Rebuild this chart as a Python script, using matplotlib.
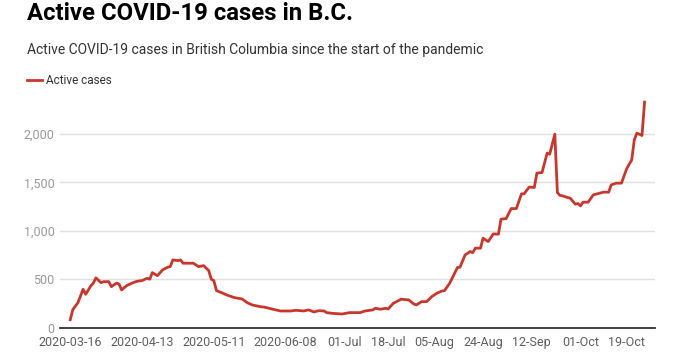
#!/usr/bin/env python3
# -*- coding: utf-8 -*-
import numpy as np
import pandas as pd
import matplotlib
matplotlib.use("Agg")
import matplotlib.pyplot as plt
import matplotlib.dates as mdates

# days since 2020-03-16 and active cases
days = [0, 1, 3, 5, 6, 8, 9, 10, 12, 13, 15, 16, 18, 19, 20, 22, 24, 26, 28, 30,
        31, 32, 34, 36, 38, 39, 40, 42, 43, 44, 46, 48, 49, 50, 52, 54, 55, 56, 57, 59,
        61, 64, 67, 69, 71, 74, 76, 79, 82, 86, 88, 91, 93, 95, 97, 99, 100, 102, 106, 109,
        113, 115, 118, 119, 121, 123, 124, 126, 129, 132, 134, 135, 137, 139, 141, 143, 145, 146, 148, 151,
        152, 154, 156, 157, 158, 160, 161, 163, 165, 167, 168, 170, 172, 174, 176, 177, 179, 181, 182, 184,
        186, 187, 189, 190, 191, 192, 194, 195, 197, 198, 199, 200, 202, 204, 206, 208, 210, 211, 213, 215,
        217, 219, 220, 221, 223, 224]
active = [85, 190, 261, 399, 347, 433, 461, 516, 467, 477, 477, 426, 461, 454, 392, 436, 461, 481, 488, 512,
          502, 570, 539, 598, 626, 632, 701, 694, 701, 667, 667, 667, 650, 632, 642, 591, 502, 488, 385, 364,
          340, 313, 299, 261, 237, 220, 213, 193, 175, 175, 182, 175, 186, 165, 178, 175, 158, 151, 144, 158,
          158, 175, 186, 203, 193, 203, 196, 254, 296, 289, 247, 237, 271, 271, 323, 358, 381, 385, 461, 622,
          626, 753, 787, 776, 822, 822, 925, 890, 969, 966, 1121, 1127, 1230, 1230, 1382, 1382, 1451, 1447, 1595, 1601,
          1801, 1790, 1997, 1395, 1366, 1361, 1344, 1337, 1275, 1282, 1258, 1296, 1296, 1371, 1385, 1399, 1399, 1474, 1492, 1492,
          1639, 1732, 1938, 2007, 1983, 2327]

tick_dates = ["2020-03-16", "2020-04-13", "2020-05-11", "2020-06-08", "2020-07-01", "2020-07-18",
              "2020-08-05", "2020-08-24", "2020-09-12", "2020-10-01", "2020-10-19"]
tick_labels = ["2020-03-16", "2020-04-13", "2020-05-11", "2020-06-08", "01-Jul", "18-Jul",
               "05-Aug", "24-Aug", "12-Sep", "01-Oct", "19-Oct"]
y_ticks = [0, 500, 1000, 1500, 2000]

plt.rcParams['font.family'] = ['Roboto', 'DejaVu Sans']

dates = pd.Timestamp("2020-03-16") + pd.to_timedelta(days, unit="D")

fig = plt.figure(figsize=(6.9, 3.64), dpi=100)
ax = fig.add_axes([0.087, 0.099, 0.862, 0.640])

ax.plot(dates, active, color='#c8372d', lw=2.0, solid_joinstyle='round', zorder=3)

ax.set_xlim(pd.Timestamp("2020-03-12"), pd.Timestamp("2020-10-30"))
ax.set_ylim(0, 2400)
ax.set_yticks(y_ticks)
ax.set_yticklabels([f"{v:,}" for v in y_ticks], color='#9a9a9a', fontsize=9)
ax.set_xticks(pd.to_datetime(tick_dates))
ax.set_xticklabels(tick_labels, color='#5f5f5f', fontsize=9)
ax.tick_params(axis='both', length=0)
ax.tick_params(axis='y', pad=4)
ax.tick_params(axis='x', pad=6)

ax.grid(axis='y', color='#e0e0e0', lw=1)
ax.set_axisbelow(True)
for s in ['top', 'right', 'left']:
    ax.spines[s].set_visible(False)
ax.spines['bottom'].set_color('#333333')
ax.spines['bottom'].set_linewidth(1.3)
ax.spines['bottom'].set_zorder(4)

fig.text(0.039, 0.945, "Active COVID-19 cases in B.C.", fontsize=17.2, fontweight='bold',
         color='#000000', va='baseline')
fig.text(0.039, 0.852, "Active COVID-19 cases in British Columbia since the start of the pandemic",
         fontsize=10, color='#333333', va='baseline')
fig.lines.append(plt.Line2D([0.039, 0.061], [0.780, 0.780], transform=fig.transFigure,
                            color='#c8372d', lw=2))
fig.text(0.067, 0.780, "Active cases", fontsize=8.5, color='#333333', va='center')

fig.savefig("out.png", dpi=100)
